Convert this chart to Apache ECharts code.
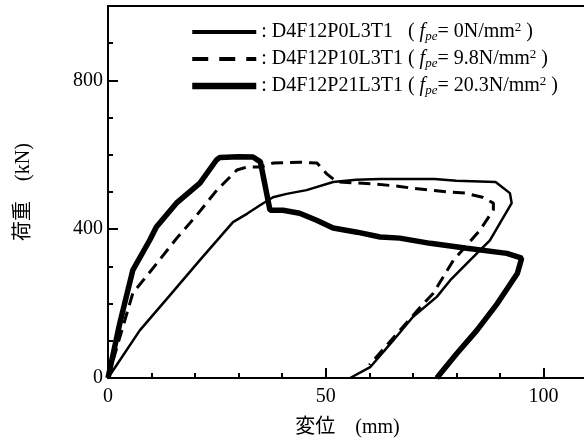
<!DOCTYPE html>
<html lang="ja">
<head>
    <meta charset="utf-8">
    <script type="text/javascript" src="https://cdn.jsdelivr.net/npm/echarts@6/dist/echarts.min.js"></script>
</head>
<body style="margin: 0; background: #fff">
<div id="container" style="width:584px;height:441px"></div>

<script type="text/javascript">
    var specimens = ['D4F12P0L3T1', 'D4F12P10L3T1', 'D4F12P21L3T1'];
    var fpeValues = ['0', '9.8', '20.3'];
    var xTickValues = [0, 50, 100];
    var yTickValues = [0, 400, 800];

    // [変位 (mm), 荷重 (kN)]
    var p0Curve = [
        [0, 0], [7.3, 128], [14.2, 222], [21.1, 317], [28.7, 419], [32, 442], [35, 465],
        [37.9, 486], [41, 495], [45.6, 505], [51.7, 527], [57, 533], [62.5, 535], [75, 535],
        [80, 530], [89, 527], [92.3, 497], [92.7, 470], [87.7, 370], [83.1, 316], [78.6, 263],
        [75.5, 218], [70, 164], [65.5, 101], [60.2, 29], [55.6, 0]
    ];
    var p10Curve = [
        [0, 0], [2.7, 109], [5.7, 228], [11.2, 308], [15.8, 376], [20.4, 438], [25, 505],
        [29.6, 559], [31.9, 567], [35, 567], [38, 578], [44, 580], [48, 578], [50.3, 548],
        [52.6, 527], [61, 522], [67, 515], [70, 510], [78, 500], [82, 497], [86, 486],
        [88.5, 470], [88.5, 452], [85.4, 397], [79.3, 316], [74.7, 228], [71.7, 190],
        [67, 128], [64, 88], [60, 35]
    ];
    var p21Curve = [
        [0, 0], [2.7, 147], [5.7, 290], [9.6, 371], [11.1, 406], [15.7, 470], [21.1, 524],
        [24.9, 586], [25.7, 593], [30, 595], [33.3, 594], [35, 581], [37.2, 451], [40.2, 451],
        [44, 443], [47.9, 424], [51.7, 403], [57.2, 392], [62.5, 379], [67, 376], [74, 362],
        [82.4, 349], [91.6, 335], [95, 322], [94, 281], [89.4, 200], [84.7, 128], [80.1, 66],
        [75.5, 0]
    ];

    var serif = "'Liberation Serif', 'Times New Roman', 'Noto Sans CJK JP', serif";

    function legendText(name) {
        var k = specimens.indexOf(name);
        var pad = k === 0 ? '   (' : ' (';
        return '{n|: ' + name + pad + ' }{i|f}{sub|pe}{n|= ' + fpeValues[k] + 'N/mm}{sup|2}{n| )}';
    }

    var dom = document.getElementById('container');
    var myChart = echarts.init(dom);

    var tickStyle = {color: '#000', width: 2};
    // hide the symbol ECharts puts in the middle of a line legend icon
    var noSymbol = {color: 'rgba(0,0,0,0)', borderColor: 'rgba(0,0,0,0)', borderWidth: 0};
    var option = {
        animation: false,
        backgroundColor: '#fff',
        grid: {left: 108, right: -3, top: 6, bottom: 63, outerBoundsMode: 'none'},
        legend: {
            orient: 'vertical',
            left: 189,
            top: 21,
            padding: 0,
            itemWidth: 64,
            itemHeight: 14,
            itemGap: 5,
            selectedMode: false,
            data: [
                {name: specimens[0], lineStyle: {width: 4}, itemStyle: noSymbol},
                {name: specimens[1], lineStyle: {width: 4, type: [16, 11]}, itemStyle: noSymbol},
                {name: specimens[2], lineStyle: {width: 6.5}, itemStyle: noSymbol}
            ],
            formatter: legendText,
            textStyle: {
                color: '#000',
                rich: {
                    n: {fontFamily: serif, fontSize: 20, lineHeight: 22, color: '#000'},
                    i: {fontFamily: serif, fontSize: 20, lineHeight: 22, fontStyle: 'italic', color: '#000'},
                    sub: {fontFamily: serif, fontSize: 13, lineHeight: 13, fontStyle: 'italic', verticalAlign: 'bottom', color: '#000'},
                    sup: {fontFamily: serif, fontSize: 13, lineHeight: 13, verticalAlign: 'top', color: '#000'}
                }
            }
        },
        xAxis: [
            {
                type: 'value', min: 0, max: 110, interval: 50, position: 'bottom',
                name: '変位　(mm)', nameLocation: 'middle', nameGap: 40,
                nameTextStyle: {fontFamily: serif, fontSize: 20, color: '#000'},
                axisLine: {show: true, lineStyle: tickStyle},
                axisTick: {inside: true, length: 10, lineStyle: tickStyle},
                axisLabel: {
                    margin: 9, fontFamily: serif, fontSize: 20, color: '#000',
                    formatter: function (v) { return xTickValues.indexOf(v) >= 0 ? String(v) : ''; }
                },
                splitLine: {show: false}
            },
            {
                type: 'value', min: 0, max: 110, interval: 10, position: 'bottom',
                axisLine: {show: false},
                axisTick: {inside: true, length: 5, lineStyle: tickStyle},
                axisLabel: {show: false},
                splitLine: {show: false}
            },
            {
                type: 'value', min: 0, max: 110, position: 'top',
                axisLine: {show: true, lineStyle: tickStyle},
                axisTick: {show: false},
                axisLabel: {show: false},
                splitLine: {show: false}
            }
        ],
        yAxis: [
            {
                type: 'value', min: 0, max: 1000, interval: 400, position: 'left',
                name: '荷重　(kN)', nameLocation: 'middle', nameGap: 74, nameRotate: 90,
                nameTextStyle: {fontFamily: serif, fontSize: 20, color: '#000'},
                axisLine: {show: true, lineStyle: tickStyle},
                axisTick: {inside: true, length: 10, lineStyle: tickStyle},
                axisLabel: {
                    margin: 5, fontFamily: serif, fontSize: 20, color: '#000',
                    formatter: function (v) { return yTickValues.indexOf(v) >= 0 ? String(v) : ''; }
                },
                splitLine: {show: false}
            },
            {
                type: 'value', min: 0, max: 1000, interval: 100, position: 'left',
                axisLine: {show: false},
                axisTick: {inside: true, length: 5, lineStyle: tickStyle},
                axisLabel: {show: false},
                splitLine: {show: false}
            }
        ],
        series: [
            {
                name: specimens[0], type: 'line', data: p0Curve, symbol: 'none',
                lineStyle: {color: '#000', width: 2.5}, itemStyle: {color: '#000'}
            },
            {
                name: specimens[1], type: 'line', data: p10Curve, symbol: 'none',
                lineStyle: {color: '#000', width: 3, type: [12, 7]}, itemStyle: {color: '#000'}
            },
            {
                name: specimens[2], type: 'line', data: p21Curve, symbol: 'none',
                lineStyle: {color: '#000', width: 5.5}, itemStyle: {color: '#000'}
            }
        ]
    };

    myChart.setOption(option);
</script>
</body>
</html>
